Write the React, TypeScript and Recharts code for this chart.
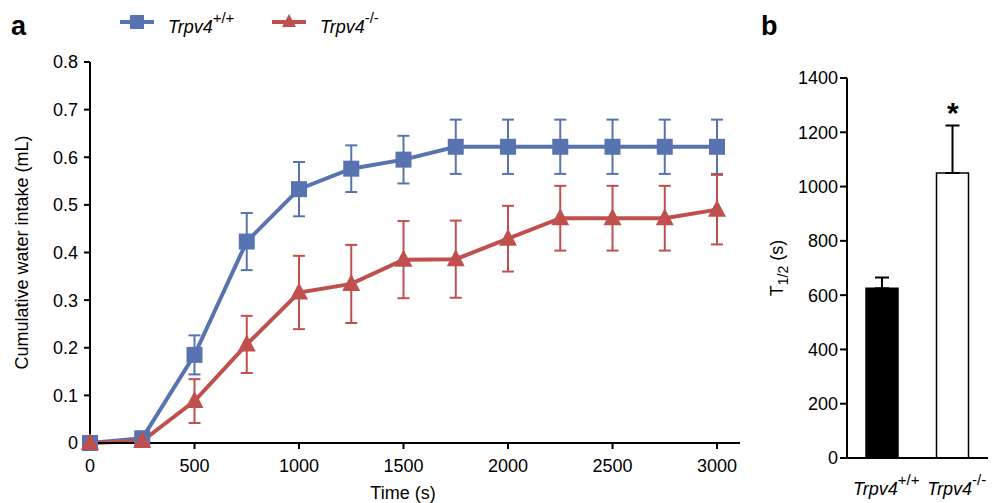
import React from "react";
import { LineChart, Line, BarChart, Bar, Cell, XAxis, YAxis, ErrorBar, ReferenceDot } from "recharts";

const FONT = "'Liberation Sans', Arial, sans-serif";
const BLUE = "#5874b0";
const RED = "#c0504d";

// panel a: cumulative water intake over time
const times = [0, 250, 500, 750, 1000, 1250, 1500, 1750, 2000, 2250, 2500, 2750, 3000];
const wtIntake = [0, 0.01, 0.185, 0.423, 0.533, 0.576, 0.595, 0.622, 0.622, 0.622, 0.622, 0.622, 0.622];
const wtIntakeErr = [0, 0, 0.041, 0.06, 0.057, 0.049, 0.05, 0.057, 0.057, 0.057, 0.057, 0.057, 0.057];
const koIntake = [0, 0.004, 0.088, 0.207, 0.316, 0.334, 0.385, 0.386, 0.429, 0.472, 0.472, 0.472, 0.49];
const koIntakeErr = [0, 0, 0.046, 0.06, 0.077, 0.082, 0.081, 0.081, 0.069, 0.068, 0.068, 0.068, 0.073];
const timeTicks = [0, 500, 1000, 1500, 2000, 2500, 3000];
const intakeTicks = [0, 0.1, 0.2, 0.3, 0.4, 0.5, 0.6, 0.7, 0.8];

// panel b: half time
const gene = "Trpv4";
const genotypes = ["+/+", "-/-"];
const halfTime = [625, 1050];
const halfTimeErr = [40, 175];
const halfTimeTicks = [0, 200, 400, 600, 800, 1000, 1200, 1400];

const intakeData = times.map((t, i) => ({
  time: t,
  wt: wtIntake[i],
  wtErr: wtIntakeErr[i],
  ko: koIntake[i],
  koErr: koIntakeErr[i],
}));

const halfTimeData = genotypes.map((g, i) => ({
  genotype: g,
  t: halfTime[i],
  err: [0, halfTimeErr[i]],
}));

const tickStyle = { fontSize: 18, fill: "#000", fontFamily: FONT };
const axisStroke = { stroke: "#000", strokeWidth: 2 };

const SquareDot = (props: any) => {
  const { cx, cy, index } = props;
  if (cx == null || cy == null) return null;
  return <rect key={`sq-${index}`} x={cx - 8} y={cy - 8} width={16} height={16} fill={BLUE} />;
};

const TriangleDot = (props: any) => {
  const { cx, cy, index } = props;
  if (cx == null || cy == null) return null;
  return (
    <polygon
      key={`tri-${index}`}
      points={`${cx},${cy - 10} ${cx - 9},${cy + 7} ${cx + 9},${cy + 7}`}
      fill={RED}
    />
  );
};

// rotated axis title; posX is the baseline position in chart coords
const VerticalLabel = ({ viewBox, posX, children }: any) => {
  const cy = viewBox.y + viewBox.height / 2;
  return (
    <text
      x={posX}
      y={cy}
      transform={`rotate(-90 ${posX} ${cy})`}
      textAnchor="middle"
      fontSize={18}
      fontFamily={FONT}
      fill="#000"
    >
      {children}
    </text>
  );
};

const TimeLabel = ({ viewBox }: any) => (
  <text x={viewBox.x + viewBox.width / 2 - 12} y={499} textAnchor="middle" fontSize={18} fontFamily={FONT} fill="#000">
    Time (s)
  </text>
);

const GenotypeTick = ({ x, y, payload }: any) => (
  <text x={x + 4} y={y + 37} textAnchor="middle" fontSize={18} fontFamily={FONT} fill="#000">
    <tspan fontStyle="italic">{gene}</tspan>
    <tspan dy={-10} fontSize={15}>{payload.value}</tspan>
  </text>
);

const LegendKey = ({ x, color, shape, sup }: any) => (
  <g>
    <line x1={x} y1={22} x2={x + 34} y2={22} stroke={color} strokeWidth={4} />
    {shape === "square" ? (
      <rect x={x + 10} y={15} width={14} height={14} fill={color} />
    ) : (
      <polygon points={`${x + 17},${14} ${x + 10},${27} ${x + 24},${27}`} fill={color} />
    )}
    <text x={x + 48} y={33} fontSize={18} fontFamily={FONT} fill="#000">
      <tspan fontStyle="italic">{gene}</tspan>
      <tspan dy={-10} fontSize={15}>{sup}</tspan>
    </text>
  </g>
);

export default function App() {
  return (
    <div style={{ position: "absolute", left: 0, top: 0, width: 1001, height: 503, background: "#fff" }}>
      <div style={{ position: "absolute", left: 0, top: 0 }}>
        <LineChart width={760} height={503} data={intakeData} margin={{ top: 62, right: 20, bottom: 0, left: 0 }}>
          <XAxis
            dataKey="time"
            type="number"
            domain={[0, 3110]}
            ticks={timeTicks}
            height={60}
            tick={tickStyle}
            axisLine={axisStroke}
            tickLine={axisStroke}
            tickSize={6}
            tickMargin={10}
            label={<TimeLabel />}
          />
          <YAxis
            type="number"
            domain={[0, 0.8]}
            ticks={intakeTicks}
            width={90}
            tick={tickStyle}
            axisLine={axisStroke}
            tickLine={axisStroke}
            tickSize={6}
            tickMargin={6}
            tickFormatter={(v: number) => (v === 0 ? "0" : v.toFixed(1))}
            label={<VerticalLabel posX={28}>Cumulative water intake (mL)</VerticalLabel>}
          />
          <Line
            dataKey="wt"
            stroke={BLUE}
            strokeWidth={4}
            dot={SquareDot}
            activeDot={false}
            isAnimationActive={false}
          >
            <ErrorBar dataKey="wtErr" direction="y" width={6} stroke={BLUE} strokeWidth={2} />
          </Line>
          <Line
            dataKey="ko"
            stroke={RED}
            strokeWidth={4}
            dot={TriangleDot}
            activeDot={false}
            isAnimationActive={false}
          >
            <ErrorBar dataKey="koErr" direction="y" width={6} stroke={RED} strokeWidth={2} />
          </Line>
        </LineChart>
      </div>

      <div style={{ position: "absolute", left: 760, top: 0 }}>
        <BarChart width={241} height={503} data={halfTimeData} margin={{ top: 78, right: 13, bottom: 0, left: 0 }}>
          <XAxis
            dataKey="genotype"
            height={45}
            axisLine={axisStroke}
            tickLine={false}
            tickSize={0}
            tickMargin={0}
            tick={<GenotypeTick />}
          />
          <YAxis
            type="number"
            domain={[0, 1400]}
            ticks={halfTimeTicks}
            width={87}
            tick={tickStyle}
            axisLine={axisStroke}
            tickLine={axisStroke}
            tickSize={7}
            tickMargin={2}
            label={
              <VerticalLabel posX={23}>
                <tspan>T</tspan>
                <tspan dy={5} fontSize={14}>1/2</tspan>
                <tspan dy={-5}> (s)</tspan>
              </VerticalLabel>
            }
          />
          <Bar dataKey="t" barSize={32} stroke="#000" strokeWidth={1.5} isAnimationActive={false}>
            {halfTimeData.map((d, i) => (
              <Cell key={d.genotype} fill={i === 0 ? "#000" : "#fff"} />
            ))}
            <ErrorBar dataKey="err" direction="y" width={7} stroke="#000" strokeWidth={2} />
          </Bar>
          <ReferenceDot
            x={genotypes[1]}
            y={halfTime[1] + halfTimeErr[1]}
            r={0}
            fill="none"
            stroke="none"
            label={{ value: "*", position: "top", offset: 3, fontSize: 30, fontWeight: "bold", fill: "#000", fontFamily: FONT }}
          />
        </BarChart>
      </div>

      <svg width={1001} height={60} style={{ position: "absolute", left: 0, top: 0, pointerEvents: "none" }}>
        <text x={11} y={35} fontSize={27} fontWeight="bold" fontFamily={FONT} fill="#000">a</text>
        <text x={761} y={35} fontSize={27} fontWeight="bold" fontFamily={FONT} fill="#000">b</text>
        <LegendKey x={120} color={BLUE} shape="square" sup="+/+" />
        <LegendKey x={272} color={RED} shape="triangle" sup="-/-" />
      </svg>
    </div>
  );
}
